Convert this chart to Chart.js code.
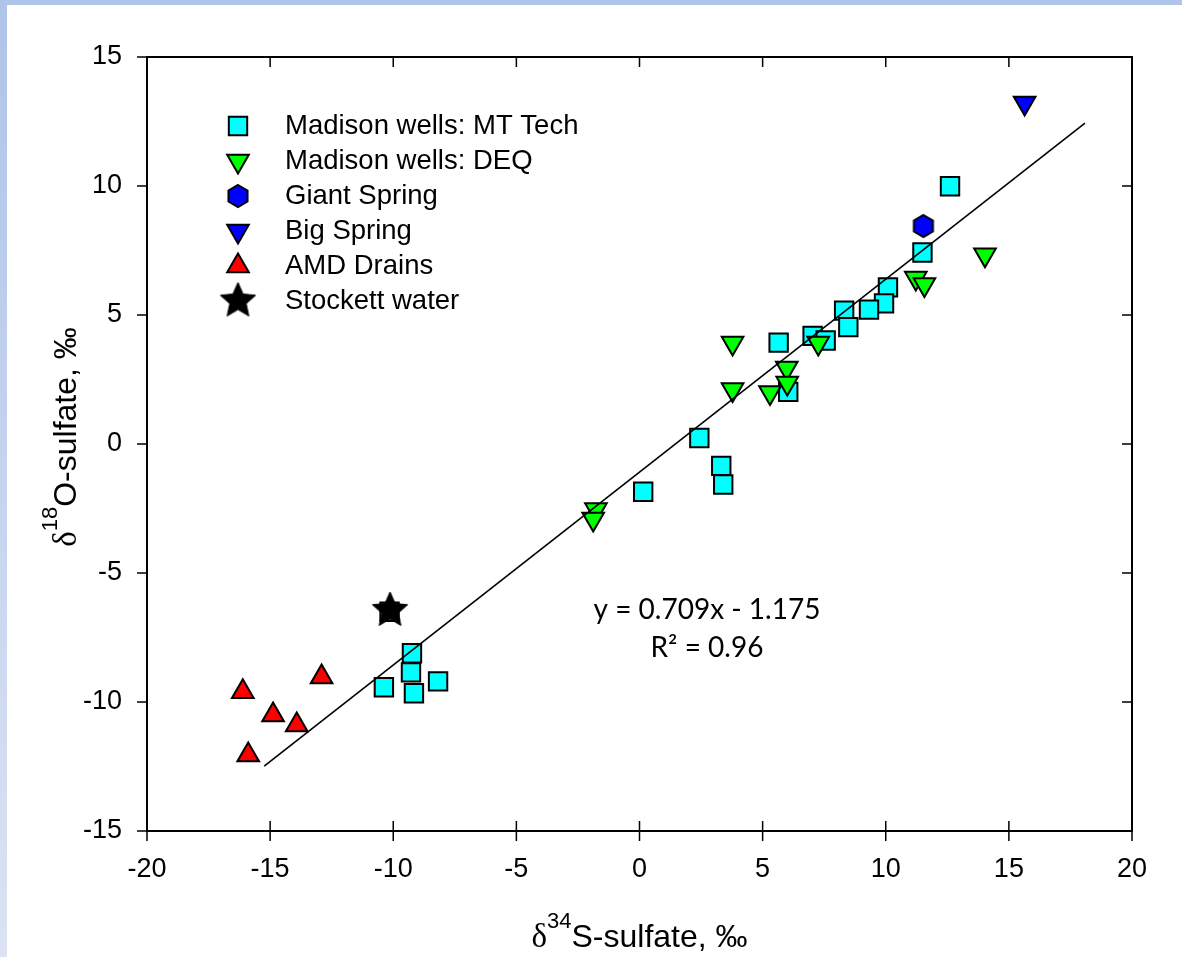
<!DOCTYPE html>
<html>
<head>
<meta charset="utf-8">
<script src="https://cdn.jsdelivr.net/npm/chart.js@4.4.1/dist/chart.umd.min.js"></script>
<style>
html, body { margin: 0; padding: 0; background: #fff; }
#wrap { position: relative; width: 1182px; height: 957px; overflow: hidden; background: #fff; }
#topband { position: absolute; left: 0; top: 0; width: 1182px; height: 5px; background: #afc4e9; }
#leftband { position: absolute; left: 0; top: 0; width: 7px; height: 957px; background: linear-gradient(#afc4e9, #dbe3f3); }
</style>
</head>
<body>
<div id="wrap">
<canvas id="chart" width="1182" height="957"></canvas>
<div id="topband"></div>
<div id="leftband"></div>
</div>
<script>
const xTicks = [-20, -15, -10, -5, 0, 5, 10, 15, 20];
const yTicks = [-15, -10, -5, 0, 5, 10, 15];

const seriesNames = [
    "Madison wells: MT Tech",
    "Madison wells: DEQ",
    "Giant Spring",
    "Big Spring",
    "AMD Drains",
    "Stockett water",
];

// Madison wells: MT Tech (cyan squares)
const mtTechX = [12.61, 11.49, 10.09, 9.93, 9.32, 8.31, 8.48, 7.03, 7.56, 5.65, 6.04, 2.43, 3.32, 3.40, 0.15, -10.15, -9.24, -9.28, -9.16, -8.18, -10.38];
const mtTechY = [9.99, 7.42, 6.07, 5.45, 5.21, 5.17, 4.53, 4.19, 4.01, 3.93, 2.02, 0.23, -0.85, -1.57, -1.85, -6.50, -8.11, -8.85, -9.66, -9.20, -9.43];

// Madison wells: DEQ (green down triangles)
const deqX = [3.78, 3.78, 5.30, 5.98, 6.00, 7.26, -1.77, -1.88, 14.03, 11.22, 11.57];
const deqY = [3.91, 2.11, 2.00, 2.95, 2.36, 3.91, -2.54, -2.91, 7.34, 6.43, 6.18];

const giantX = [11.53];
const giantY = [8.45];

const bigX = [15.64];
const bigY = [13.22];

const amdX = [-16.11, -12.91, -14.88, -13.92, -15.89];
const amdY = [-9.60, -9.03, -10.50, -10.89, -12.05];

const stockettX = [-10.13];
const stockettY = [-6.45];

// regression line as drawn
const fitX = [-15.24, 18.09];
const fitY = [-12.49, 12.44];

const equationLines = ["y = 0.709x - 1.175", "R\u00b2 = 0.96"];
const equationAt = { x: 2.74, y: [-6.45, -7.92] };

const sans = '"Liberation Sans", Arial, sans-serif';

function pts(xs, ys) {
    return xs.map((x, i) => ({ x: x, y: ys[i] }));
}

function makeHexagon(r, fill) {
    const c = document.createElement("canvas");
    const s = Math.ceil(2 * r + 4);
    c.width = s;
    c.height = s;
    const g = c.getContext("2d");
    g.beginPath();
    for (let i = 0; i < 6; i++) {
        const a = (Math.PI / 180) * (60 * i - 90);
        const px = s / 2 + r * Math.cos(a);
        const py = s / 2 + r * Math.sin(a);
        if (i) g.lineTo(px, py);
        else g.moveTo(px, py);
    }
    g.closePath();
    g.fillStyle = fill;
    g.fill();
    g.lineWidth = 2;
    g.strokeStyle = "#000";
    g.stroke();
    return c;
}

function makeStar(ro, ri, fill) {
    const c = document.createElement("canvas");
    const s = Math.ceil(2 * ro + 4);
    c.width = s;
    c.height = s;
    const g = c.getContext("2d");
    g.beginPath();
    for (let i = 0; i < 10; i++) {
        const r = i % 2 ? ri : ro;
        const a = (Math.PI / 180) * (36 * i - 90);
        const px = s / 2 + r * Math.cos(a);
        const py = s / 2 + r * Math.sin(a);
        if (i) g.lineTo(px, py);
        else g.moveTo(px, py);
    }
    g.closePath();
    g.fillStyle = fill;
    g.fill();
    g.lineWidth = 1;
    g.strokeStyle = "#000";
    g.stroke();
    return c;
}

const hexagon = makeHexagon(11, "#0000ff");
const star = makeStar(18.5, 8.6, "#000");

function drawTitle(ctx, sup, rest, cx, base, rotate) {
    const parts = [
        { t: "\u03b4", font: '33px "Liberation Serif", serif', dy: 0 },
        { t: sup, font: "22px " + sans, dy: -19 },
        { t: rest, font: "32px " + sans, dy: 0 },
    ];
    let w = 0;
    parts.forEach((p) => {
        ctx.font = p.font;
        p.w = ctx.measureText(p.t).width;
        w += p.w;
    });
    ctx.save();
    ctx.translate(cx, base);
    if (rotate) ctx.rotate(-Math.PI / 2);
    ctx.textAlign = "left";
    ctx.textBaseline = "alphabetic";
    ctx.fillStyle = "#000";
    let px = -w / 2;
    parts.forEach((p) => {
        ctx.font = p.font;
        ctx.fillText(p.t, px, p.dy);
        px += p.w;
    });
    ctx.restore();
}

const framePlugin = {
    id: "frame",
    afterDatasetsDraw(chart) {
        const ctx = chart.ctx;
        const a = chart.chartArea;
        const x = chart.scales.x;
        const y = chart.scales.y;
        ctx.save();

        // box and ticks
        ctx.strokeStyle = "#000";
        ctx.lineWidth = 2;
        ctx.strokeRect(a.left, a.top, a.right - a.left, a.bottom - a.top);
        ctx.lineWidth = 1.5;
        ctx.beginPath();
        xTicks.forEach((v) => {
            const px = x.getPixelForValue(v);
            ctx.moveTo(px, a.bottom - 10);
            ctx.lineTo(px, a.bottom + 10);
            ctx.moveTo(px, a.top);
            ctx.lineTo(px, a.top + 10);
        });
        yTicks.forEach((v) => {
            const py = y.getPixelForValue(v);
            ctx.moveTo(a.left - 10, py);
            ctx.lineTo(a.left, py);
            ctx.moveTo(a.right - 10, py);
            ctx.lineTo(a.right, py);
        });
        ctx.stroke();

        // legend
        const rows = [126, 161, 196, 231, 266, 301];
        chart.data.datasets.forEach((ds, i) => {
            if (i >= seriesNames.length) return;
            ctx.fillStyle = ds.backgroundColor;
            ctx.strokeStyle = "#000";
            ctx.lineWidth = ds.pointBorderWidth;
            Chart.helpers.drawPoint(ctx, {
                pointStyle: ds.pointStyle,
                rotation: ds.pointRotation || 0,
                radius: ds.pointRadius,
                borderWidth: ds.pointBorderWidth,
            }, 238, rows[i]);
            ctx.fillStyle = "#000";
            ctx.font = "27.5px " + sans;
            ctx.textAlign = "left";
            ctx.textBaseline = "middle";
            ctx.fillText(ds.label, 285, rows[i]);
        });

        // regression text
        ctx.font = '28px Lato, "Open Sans", sans-serif';
        ctx.textAlign = "center";
        ctx.textBaseline = "middle";
        ctx.fillStyle = "#000";
        equationLines.forEach((t, i) => {
            ctx.fillText(t, x.getPixelForValue(equationAt.x), y.getPixelForValue(equationAt.y[i]));
        });

        // axis titles
        drawTitle(ctx, "34", "S-sulfate, \u2030", (a.left + a.right) / 2, 947, false);
        drawTitle(ctx, "18", "O-sulfate, \u2030", 76, 437, true);
        ctx.restore();
    },
};

const ctx = document.getElementById("chart").getContext("2d");
const chart = new Chart(ctx, {
    type: "scatter",
    data: {
        datasets: [{
                label: seriesNames[0],
                data: pts(mtTechX, mtTechY),
                pointStyle: "rect",
                pointRadius: 13,
                backgroundColor: "#00ffff",
                pointBackgroundColor: "#00ffff",
                pointBorderColor: "#000",
                pointBorderWidth: 2,
                order: 5,
            },
            {
                label: seriesNames[1],
                data: pts(deqX, deqY),
                pointStyle: "triangle",
                pointRotation: 180,
                pointRadius: 12.5,
                backgroundColor: "#00ff00",
                pointBackgroundColor: "#00ff00",
                pointBorderColor: "#000",
                pointBorderWidth: 2,
                order: 3,
            },
            {
                label: seriesNames[2],
                data: pts(giantX, giantY),
                pointStyle: hexagon,
                pointRadius: 11,
                backgroundColor: "#0000ff",
                pointBackgroundColor: "#0000ff",
                pointBorderColor: "#000",
                pointBorderWidth: 2,
                order: 2,
            },
            {
                label: seriesNames[3],
                data: pts(bigX, bigY),
                pointStyle: "triangle",
                pointRotation: 180,
                pointRadius: 12.5,
                backgroundColor: "#0000ff",
                pointBackgroundColor: "#0000ff",
                pointBorderColor: "#000",
                pointBorderWidth: 2,
                order: 2,
            },
            {
                label: seriesNames[4],
                data: pts(amdX, amdY),
                pointStyle: "triangle",
                pointRadius: 12.5,
                backgroundColor: "#ff0000",
                pointBackgroundColor: "#ff0000",
                pointBorderColor: "#000",
                pointBorderWidth: 2,
                order: 2,
            },
            {
                label: seriesNames[5],
                data: pts(stockettX, stockettY),
                pointStyle: star,
                pointRadius: 18,
                backgroundColor: "#000",
                pointBackgroundColor: "#000",
                pointBorderColor: "#000",
                pointBorderWidth: 1,
                order: 0,
            },
            {
                label: "fit",
                data: pts(fitX, fitY),
                showLine: true,
                pointRadius: 0,
                borderColor: "#000",
                borderWidth: 1.6,
                fill: false,
                order: 1,
            },
        ],
    },
    options: {
        responsive: false,
        animation: false,
        events: [],
        layout: {
            padding: { top: 57, right: 50, left: 0, bottom: 0 },
        },
        plugins: {
            legend: { display: false },
            tooltip: { enabled: false },
        },
        scales: {
            x: {
                type: "linear",
                min: -20,
                max: 20,
                afterBuildTicks: (s) => {
                    s.ticks = xTicks.map((v) => ({ value: v }));
                },
                afterFit: (s) => {
                    s.height = 126;
                },
                grid: { display: false, drawTicks: false },
                border: { display: false },
                ticks: {
                    color: "#000",
                    font: { family: sans, size: 27 },
                    padding: 22,
                    maxRotation: 0,
                    autoSkip: false,
                },
            },
            y: {
                type: "linear",
                min: -15,
                max: 15,
                afterBuildTicks: (s) => {
                    s.ticks = yTicks.map((v) => ({ value: v }));
                },
                afterFit: (s) => {
                    s.width = 147;
                },
                grid: { display: false, drawTicks: false },
                border: { display: false },
                ticks: {
                    color: "#000",
                    font: { family: sans, size: 27 },
                    padding: 25,
                    autoSkip: false,
                },
            },
        },
    },
    plugins: [framePlugin],
});
</script>
</body>
</html>
